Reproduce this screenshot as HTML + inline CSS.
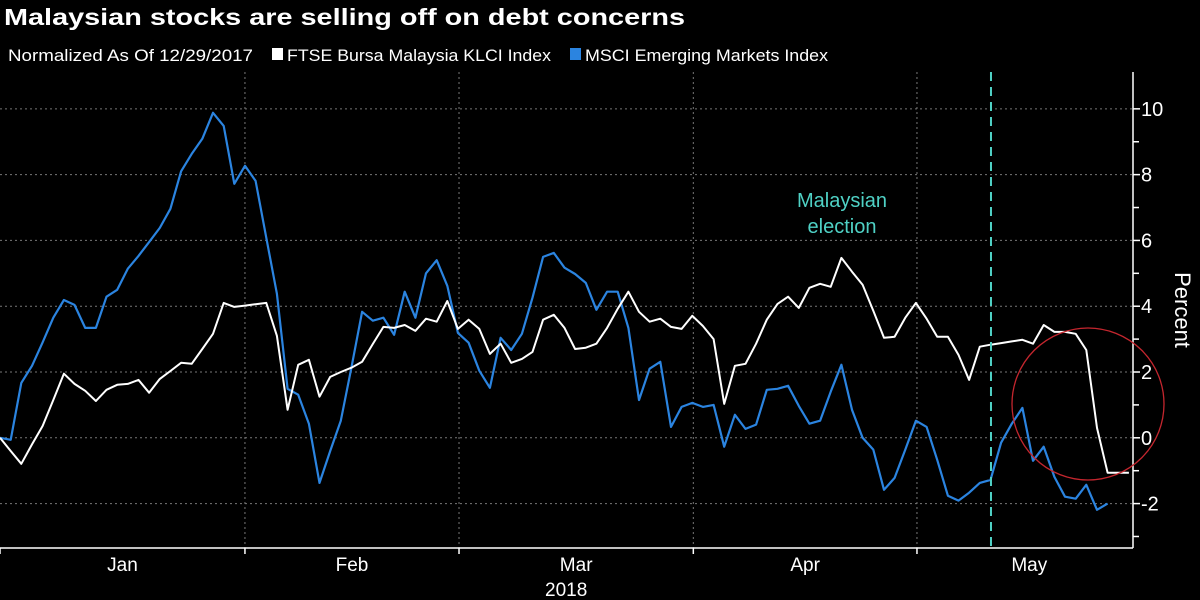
<!DOCTYPE html>
<html><head><meta charset="utf-8"><style>
html,body{margin:0;padding:0;background:#000;width:1200px;height:600px;overflow:hidden}
svg{display:block}
text{font-family:"Liberation Sans","DejaVu Sans",sans-serif}
</style></head><body>
<svg id="chart" width="1200" height="600" viewBox="0 0 1200 600" xmlns="http://www.w3.org/2000/svg">
<rect x="0" y="0" width="1200" height="600" fill="#000"/>
<text x="4" y="25" fill="#fff" font-size="23" font-weight="bold" textLength="681" lengthAdjust="spacingAndGlyphs">Malaysian stocks are selling off on debt concerns</text>
<g>
<text x="8" y="61" fill="#fff" font-size="17" textLength="245" lengthAdjust="spacingAndGlyphs">Normalized As Of 12/29/2017</text>
<rect x="272" y="48" width="11" height="12" fill="#fff"/>
<text x="287" y="61" fill="#fff" font-size="17" textLength="264" lengthAdjust="spacingAndGlyphs">FTSE Bursa Malaysia KLCI Index</text>
<rect x="570" y="48" width="11" height="12" fill="#2b84e0"/>
<text x="585" y="61" fill="#fff" font-size="17" textLength="243" lengthAdjust="spacingAndGlyphs">MSCI Emerging Markets Index</text>
</g>
<g id="grid"></g>
<g id="axes"></g>
<g id="series"></g>
<g id="annot"></g>
<text x="0" y="0" transform="translate(1175,310) rotate(90)" text-anchor="middle" fill="#fff" font-size="22">Percent</text>
</svg>
<script>
const klciValues = [0,-0.4,-0.79,-0.2,0.36,1.15,1.95,1.64,1.43,1.12,1.46,1.61,1.64,1.76,1.37,1.79,2.03,2.28,2.25,2.7,3.16,4.1,3.98,4.02,4.06,4.1,3.1,0.85,2.22,2.37,1.25,1.85,2.0,2.13,2.31,2.85,3.37,3.34,3.43,3.25,3.62,3.53,4.16,3.31,3.59,3.31,2.55,2.86,2.28,2.4,2.61,3.59,3.74,3.34,2.7,2.74,2.86,3.34,3.92,4.44,3.83,3.53,3.62,3.37,3.31,3.71,3.4,3.0,1.03,2.19,2.25,2.86,3.59,4.07,4.29,3.95,4.56,4.68,4.59,5.47,5.05,4.65,3.86,3.04,3.07,3.65,4.1,3.62,3.07,3.07,2.52,1.76,2.77,2.83,2.88,2.93,2.98,2.86,3.43,3.22,3.22,3.16,2.67,0.30,-1.06,-1.06,-1.06];
const msciValues = [0,-0.06,1.67,2.19,2.9,3.65,4.19,4.04,3.34,3.34,4.29,4.5,5.14,5.53,5.95,6.38,6.96,8.1,8.63,9.09,9.88,9.48,7.72,8.27,7.81,6.08,4.38,1.49,1.31,0.43,-1.37,-0.4,0.52,2.13,3.83,3.56,3.65,3.13,4.44,3.65,5.0,5.4,4.62,3.19,2.89,2.04,1.52,3.04,2.67,3.16,4.26,5.5,5.62,5.17,4.98,4.71,3.89,4.44,4.44,3.34,1.15,2.1,2.31,0.33,0.94,1.06,0.94,1.0,-0.27,0.7,0.27,0.4,1.46,1.49,1.58,0.97,0.43,0.52,1.4,2.22,0.85,0,-0.36,-1.58,-1.22,-0.36,0.52,0.33,-0.67,-1.76,-1.91,-1.67,-1.37,-1.28,-0.15,0.43,0.91,-0.70,-0.27,-1.19,-1.79,-1.85,-1.43,-2.19,-2.0];
const monthLabels = ["Jan","Feb","Mar","Apr","May"];
const monthStarts = [0,23,43.1,65.1,86.1,107.2];
const yTicks = [-2,0,2,4,6,8,10];
const yMinorTicks = [-3,-1,1,3,5,7,9];
const electionIndex = 93.05;
const yearLabel = "2018";

const X0=0, X1=1133, Y0=548, Y1=72;
const yMin=-3.35, yMax=11.12;
function xs(i){return i*10.65;}
function ys(v){return Y0-(v-yMin)/(yMax-yMin)*(Y0-Y1);}
const NS="http://www.w3.org/2000/svg";
function mk(tag,attrs,parent){const e=document.createElementNS(NS,tag);for(const k in attrs)e.setAttribute(k,attrs[k]);parent.appendChild(e);return e;}
const grid=document.getElementById('grid'),axes=document.getElementById('axes'),series=document.getElementById('series'),annot=document.getElementById('annot');

yTicks.forEach(v=>{
  const l=mk('line',{x1:X0,x2:X1,y1:ys(v),y2:ys(v),stroke:'#777','stroke-width':1,'stroke-dasharray':'2,3'},grid);
  
  
  const t=mk('line',{x1:X1,x2:X1+7,y1:ys(v),y2:ys(v),stroke:'#fff','stroke-width':1.5},axes);
  
  
  const tx=mk('text',{x:X1+8,y:ys(v)+7,fill:'#fff','font-size':20},axes);
  tx.textContent=v;
  
  
});
yMinorTicks.forEach(v=>{
  const t=mk('line',{x1:X1,x2:X1+6,y1:ys(v),y2:ys(v),stroke:'#fff','stroke-width':1.5},axes);
  
  
});
monthStarts.forEach((m,i)=>{
  const x=xs(m);
  if(i>0 && i<monthStarts.length-1){
    const g=mk('line',{x1:x,x2:x,y1:Y1,y2:Y0,stroke:'#777','stroke-width':1,'stroke-dasharray':'2,3'},grid);
    
    
  }
  if(i<monthStarts.length-1){
    const t=mk('line',{x1:x,x2:x,y1:Y0,y2:Y0+6,stroke:'#fff','stroke-width':1.5},axes);
    
    
    const cx=(xs(m)+Math.min(xs(monthStarts[i+1]),X1+30))/2;
    const tx=mk('text',{x:cx,y:571,fill:'#fff','font-size':19,'text-anchor':'middle'},axes);
    tx.textContent=monthLabels[i];
    
    
  }
});
const yr=mk('text',{x:(xs(monthStarts[2])+xs(monthStarts[3]))/2-10,y:596,fill:'#fff','font-size':19,'text-anchor':'middle'},axes);
yr.textContent=yearLabel;


const ax1=mk('line',{x1:X0,x2:X1,y1:Y0,y2:Y0,stroke:'#fff','stroke-width':1.5},axes);


const ax2=mk('line',{x1:X1,x2:X1,y1:Y1,y2:Y0,stroke:'#fff','stroke-width':1.5},axes);



const ex=xs(electionIndex);
const el=mk('line',{x1:ex,x2:ex,y1:Y1,y2:Y0,stroke:'#4fd1c5','stroke-width':2,'stroke-dasharray':'9,6'},annot);


const et1=mk('text',{x:842,y:207,fill:'#4fd1c5','font-size':20,'text-anchor':'middle'},annot);
et1.textContent='Malaysian';


const et2=mk('text',{x:842,y:233,fill:'#4fd1c5','font-size':20,'text-anchor':'middle'},annot);
et2.textContent='election';



function pathOf(arr){return arr.map((v,i)=>(i?'L':'M')+xs(i).toFixed(1)+','+ys(v).toFixed(1)).join(' ');}
const pm=mk('path',{d:pathOf(msciValues),fill:'none',stroke:'#2b84e0','stroke-width':2.2,'stroke-linejoin':'round'},series);


const pk=mk('path',{d:pathOf(klciValues),fill:'none',stroke:'#fff','stroke-width':2,'stroke-linejoin':'round'},series);



const c=mk('circle',{cx:1088,cy:404,r:76,fill:'none',stroke:'#c4262e','stroke-width':1.3},annot);


</script>
</body></html>
